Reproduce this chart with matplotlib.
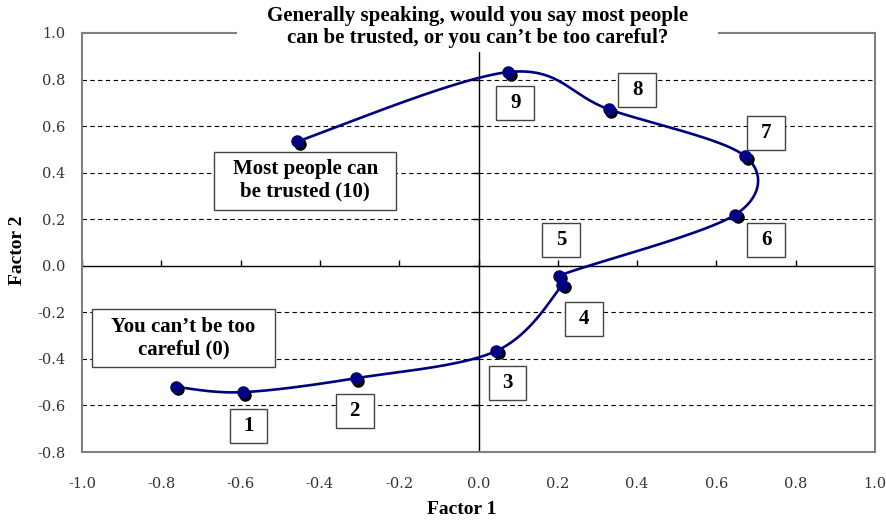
import numpy as np
import matplotlib
matplotlib.use("Agg")
import matplotlib.pyplot as plt
from matplotlib.patches import Rectangle
from matplotlib.markers import TICKUP, TICKLEFT
from matplotlib.transforms import offset_copy

plt.rcParams['font.family'] = ['Liberation Serif', 'DejaVu Serif']

# factor scores for answers 0..10
fx = [-0.764, -0.595, -0.309, 0.045, 0.211, 0.203, 0.648, 0.673, 0.329, 0.075, -0.457]
fy = [-0.520, -0.543, -0.483, -0.366, -0.082, -0.043, 0.220, 0.470, 0.672, 0.832, 0.534]

# number label boxes (answers 1..9)
num_labels = ['1', '2', '3', '4', '5', '6', '7', '8', '9']
num_x = [-0.580, -0.312, 0.073, 0.266, 0.209, 0.726, 0.726, 0.400, 0.093]
num_y = [-0.690, -0.625, -0.504, -0.228, 0.112, 0.112, 0.569, 0.754, 0.698]

# end labels
end_labels = ["You can\u2019t be too\ncareful (0)", "Most people can\nbe trusted (10)"]
end_x = [-0.744, -0.437]
end_y = [-0.310, 0.366]

xticks = [-1.0, -0.8, -0.6, -0.4, -0.2, 0.0, 0.2, 0.4, 0.6, 0.8, 1.0]
yticks = [-0.8, -0.6, -0.4, -0.2, 0.0, 0.2, 0.4, 0.6, 0.8, 1.0]

fig = plt.figure(figsize=(8.86, 5.24), dpi=100)
ax = fig.add_axes([82/886, 1 - 452/524, (875-82)/886, (452-33)/524])
ax.set_xlim(-1.0, 1.0)
ax.set_ylim(-0.8, 1.0)

for s in ax.spines.values():
    s.set_color('#808080')
    s.set_linewidth(1.5)

ax.set_xticks(xticks)
ax.set_yticks(yticks)
ax.set_xticklabels(['%.1f' % v for v in xticks], family='DejaVu Serif')
ax.set_yticklabels(['%.1f' % v for v in yticks], family='DejaVu Serif')
ax.tick_params(axis='x', length=0, pad=18, labelsize=10.5, labelcolor='#333333')
ax.tick_params(axis='y', length=0, pad=12, labelsize=10.5, labelcolor='#333333')

# dashed gridlines
for v in yticks:
    if v not in (0.0, -0.8, 1.0):
        ax.axhline(v, color='black', lw=0.8, ls=(0, (4, 3)), zorder=1)

# axes through zero with small ticks
ax.axhline(0, color='black', lw=1, zorder=2)
ax.axvline(0, color='black', lw=1, zorder=2)
ax.plot(xticks, [0] * len(xticks), ls='none', marker=TICKUP, ms=4, mew=1, color='black', zorder=2)
ax.plot([0] * len(yticks), yticks, ls='none', marker=TICKLEFT, ms=4, mew=1, color='black', zorder=2)

# smoothed line (Bezier through points in display space, control arms capped on short segments)
P = ax.transData.transform(np.column_stack([fx, fy]))
n = len(P)


def arm(v, seg_len):
    v = v / 6
    norm = np.linalg.norm(v)
    cap = 0.5 * seg_len
    return v * (cap / norm) if norm > cap else v


curve = []
t = np.linspace(0, 1, 40)[:, None]
for i in range(n - 1):
    p0 = P[max(i - 1, 0)]
    p1 = P[i]
    p2 = P[i + 1]
    p3 = P[min(i + 2, n - 1)]
    seg_len = np.linalg.norm(p2 - p1)
    c1 = p1 + arm(p2 - p0, seg_len)
    c2 = p2 - arm(p3 - p1, seg_len)
    seg = ((1 - t) ** 3) * p1 + 3 * ((1 - t) ** 2) * t * c1 + 3 * (1 - t) * t ** 2 * c2 + t ** 3 * p2
    curve.append(seg)
curve = ax.transData.inverted().transform(np.vstack(curve))
ax.plot(curve[:, 0], curve[:, 1], color='#000080', lw=1.9, zorder=4)

shadow = offset_copy(ax.transData, fig=fig, x=2.5, y=-2.5, units='dots')
ax.plot(fx, fy, ls='none', marker='o', ms=8, color='black', transform=shadow, zorder=5)
ax.plot(fx, fy, ls='none', marker='o', ms=8, color='#000080', zorder=6)

# number boxes
bw, bh = 38 / 398, 34 / 232.5
for lab, x, y in zip(num_labels, num_x, num_y):
    ax.add_patch(Rectangle((x - bw / 2, y - bh / 2), bw, bh, facecolor='white',
                           edgecolor='#444444', lw=1, zorder=7))
    ax.text(x, y, lab, ha='center', va='center', fontsize=15, fontweight='bold', zorder=8)

ew, eh = 183 / 398, 58 / 232.5
for lab, x, y in zip(end_labels, end_x, end_y):
    ax.add_patch(Rectangle((x - ew / 2, y - eh / 2), ew, eh, facecolor='white',
                           edgecolor='#444444', lw=1, zorder=7))
    ax.text(x, y, lab, ha='center', va='center', fontsize=15, fontweight='bold',
            linespacing=1.15, zorder=8)

# title over the top frame
fig.patches.append(Rectangle((237/886, 1 - 52/524), (718-237)/886, 52/524, transform=fig.transFigure,
                             facecolor='white', edgecolor='none', zorder=3))
fig.text(478/886, 1 - 27/524,
         "Generally speaking, would you say most people\ncan be trusted, or you can\u2019t be too careful?",
         ha='center', va='center', fontsize=15, fontweight='bold', linespacing=1.1, zorder=4)

fig.text(462/886, 1 - 510/524, 'Factor 1', ha='center', va='center', fontsize=14, fontweight='bold')
fig.text(18/886, 1 - 250/524, 'Factor 2', ha='center', va='center', fontsize=14,
         fontweight='bold', rotation=90)

fig.savefig('out.png', dpi=100)
